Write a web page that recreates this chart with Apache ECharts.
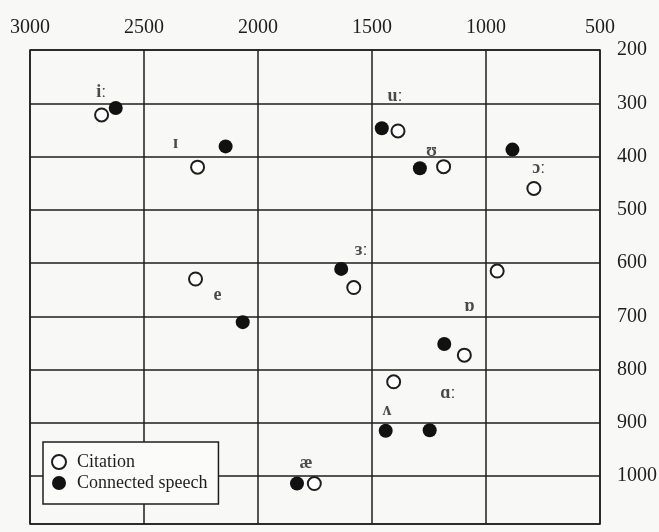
<!DOCTYPE html>
<html>
<head>
<meta charset="utf-8">
<script src="https://cdn.jsdelivr.net/npm/echarts@6/dist/echarts.min.js"></script>
<style>
html,body{margin:0;padding:0;background:#f8f8f6;}
#chart{width:659px;height:532px;}
</style>
</head>
<body>
<div id="chart"></div>
<script>
// Vowel formant data (F2 on x, F1 on y, Hz)
var vowels      = ['iː', 'ɪ', 'e', 'ɜː', 'uː', 'ʊ', 'ɔː', 'ɒ', 'ɑː', 'ʌ', 'æ'];
var citationF2  = [2686, 2265, 2274, 1580, 1386, 1186, 790, 951, 1095, 1405, 1753];
var citationF1  = [322, 420, 630, 646, 352, 419, 460, 615, 773, 823, 1014];
var connectedF2 = [2624, 2142, 2067, 1635, 1457, 1290, 884, 1183, 1247, 1440, 1829];
var connectedF1 = [309, 381, 711, 611, 347, 422, 387, 752, 914, 915, 1014];
var labelF2     = [2687, 2361, 2178, 1548, 1399, 1239, 769, 1073, 1167, 1434, 1789];
var labelF1     = [279, 375, 660, 577, 287, 390, 422, 682, 845, 876, 976];
var seriesNames = ['Citation', 'Connected speech'];

var serif = '"Liberation Serif", "DejaVu Serif", serif';
var ink = '#1e1e1e';

function pairs(xs, ys) { return xs.map(function (x, i) { return [x, ys[i]]; }); }
function plain(v) { return String(v); }

var chart = echarts.init(document.getElementById('chart'), null, {renderer: 'canvas'});
chart.setOption({
  backgroundColor: '#f8f8f6',
  animation: false,
  grid: {
    left: 30, right: 59, top: 50, bottom: 8,
    outerBoundsMode: 'none', containLabel: false,
    show: true, borderColor: ink, borderWidth: 1.5, backgroundColor: 'transparent'
  },
  xAxis: {
    type: 'value', inverse: true, position: 'top',
    min: 500, max: 3000, interval: 500,
    axisLine: {show: false}, axisTick: {show: false},
    splitLine: {show: true, lineStyle: {color: ink, width: 1.5}},
    axisLabel: {fontFamily: serif, fontSize: 20, color: ink, margin: 12, formatter: plain}
  },
  yAxis: {
    type: 'value', inverse: true, position: 'right',
    min: 200, max: 1090, interval: 100,
    axisLine: {show: false}, axisTick: {show: false},
    splitLine: {show: true, lineStyle: {color: ink, width: 1.5}},
    axisLabel: {fontFamily: serif, fontSize: 20, color: ink, margin: 17, showMaxLabel: false, formatter: plain}
  },
  legend: {
    data: seriesNames,
    orient: 'vertical', left: 43, top: 442,
    backgroundColor: '#fbfbfa', borderColor: ink, borderWidth: 1.5,
    padding: [11, 11, 12, 8], itemGap: 3,
    itemWidth: 14, itemHeight: 14,
    textStyle: {fontFamily: serif, fontSize: 18, color: ink, padding: [0, 0, 0, 6]}
  },
  series: [
    {
      name: seriesNames[0], type: 'scatter', symbol: 'circle', symbolSize: 13,
      itemStyle: {color: '#ffffff', borderColor: ink, borderWidth: 2, opacity: 1},
      data: pairs(citationF2, citationF1), z: 3
    },
    {
      name: seriesNames[1], type: 'scatter', symbol: 'circle', symbolSize: 14,
      itemStyle: {color: '#111111', borderColor: '#111111', borderWidth: 0, opacity: 1},
      data: pairs(connectedF2, connectedF1), z: 4
    },
    {
      name: 'labels', type: 'scatter', symbolSize: 1, silent: true,
      itemStyle: {color: 'rgba(0,0,0,0)'},
      label: {
        show: true, position: 'inside', formatter: '{b}',
        fontFamily: serif, fontSize: 18, fontWeight: 'bold', color: ink
      },
      data: vowels.map(function (v, i) { return {name: v, value: [labelF2[i], labelF1[i]]}; }),
      z: 5
    }
  ]
});
</script>
</body>
</html>
